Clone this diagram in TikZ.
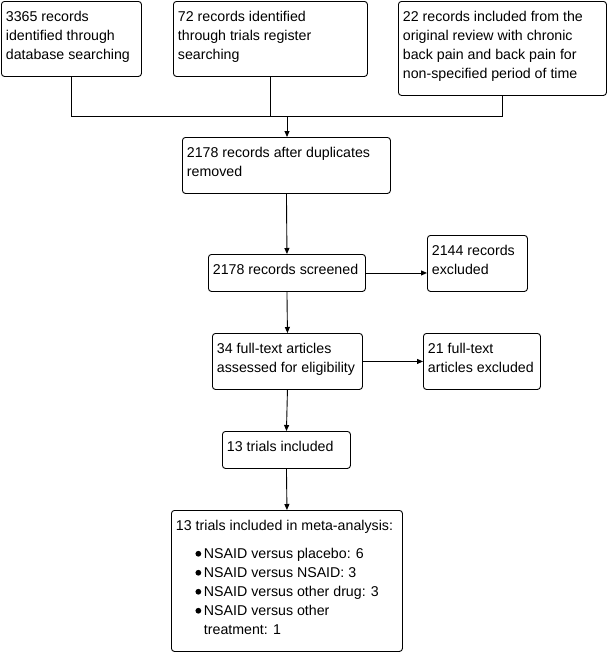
\documentclass[tikz,border=0pt]{standalone}
\usepackage{fontspec}
\setmainfont{Liberation Sans}
\usetikzlibrary{arrows.meta}
\newcommand{\bxtext}[3]{\parbox[c][#2pt][t]{#1pt}{\raggedright\leftskip=4.5pt\vspace*{6.8pt}\strut #3}}
\newcommand{\blt}{\hspace*{19.5pt}\makebox[8.5pt][l]{\tikz[x=1pt,y=1pt,baseline=0pt]\fill[black] (2.9,4.8) circle (2.9);}}
\begin{document}
\begin{tikzpicture}[x=1pt,y=-1pt,
  box/.style={draw=black, line width=0.9pt, rounded corners=3pt, inner sep=0pt, anchor=north west,
    font=\fontsize{14.2}{19}\selectfont},
  conn/.style={draw=black, line width=0.9pt},
  arr/.style={conn, -{Triangle[length=6pt,width=5pt]}}]
\useasboundingbox (0,0) rectangle (609,653);
\node[box] (b1) at (1,1) {\bxtext{140}{75}{3365 records\\identified through\\database searching}};
\node[box] (b2) at (173,1) {\bxtext{194}{75}{72 records identified\\through trials register\\searching}};
\node[box] (b3) at (398,1) {\bxtext{208}{94}{22 records included from the\\original review with chronic\\back pain and back pain for\\non-specified period of time}};
\node[box] (b4) at (182,137) {\bxtext{208}{56}{2178 records after duplicates\\removed}};
\node[box] (b5) at (208,254) {\bxtext{157}{37}{2178 records screened}};
\node[box] (b6) at (427,235) {\bxtext{100}{56}{2144 records\\excluded}};
\node[box] (b7) at (212,333) {\bxtext{150}{56}{34 full-text articles\\assessed for eligibility}};
\node[box] (b8) at (423,333) {\bxtext{117}{56}{21 full-text\\articles excluded}};
\node[box] (b9) at (222,431) {\bxtext{128}{37}{13 trials included}};
\node[box] (b10) at (171,510) {\bxtext{231}{141}{13 trials included in meta-analysis:\\[9pt]
\blt NSAID versus placebo: 6\\
\blt NSAID versus NSAID: 3\\
\blt NSAID versus other drug: 3\\
\blt NSAID versus other\\
\hspace*{28pt}treatment: 1}};
\coordinate (j) at (287,116);
\draw[conn] (b1.south) |- (j);
\draw[conn] (b3.south) |- (j);
\draw[conn] (b2.south) -- (b2.south |- j);
\draw[arr] (j) -- (j |- b4.north);
\draw[arr] (b4.south) -- (b5.north);
\draw[arr] (b5.east) -- (b5.east -| b6.west);
\draw[arr] (b5.south) -- (b7.north);
\draw[arr] (b7.east) -- (b7.east -| b8.west);
\draw[arr] (b7.south) -- (b9.north);
\draw[arr] (b9.south) -- (b10.north);
\end{tikzpicture}
\end{document}
